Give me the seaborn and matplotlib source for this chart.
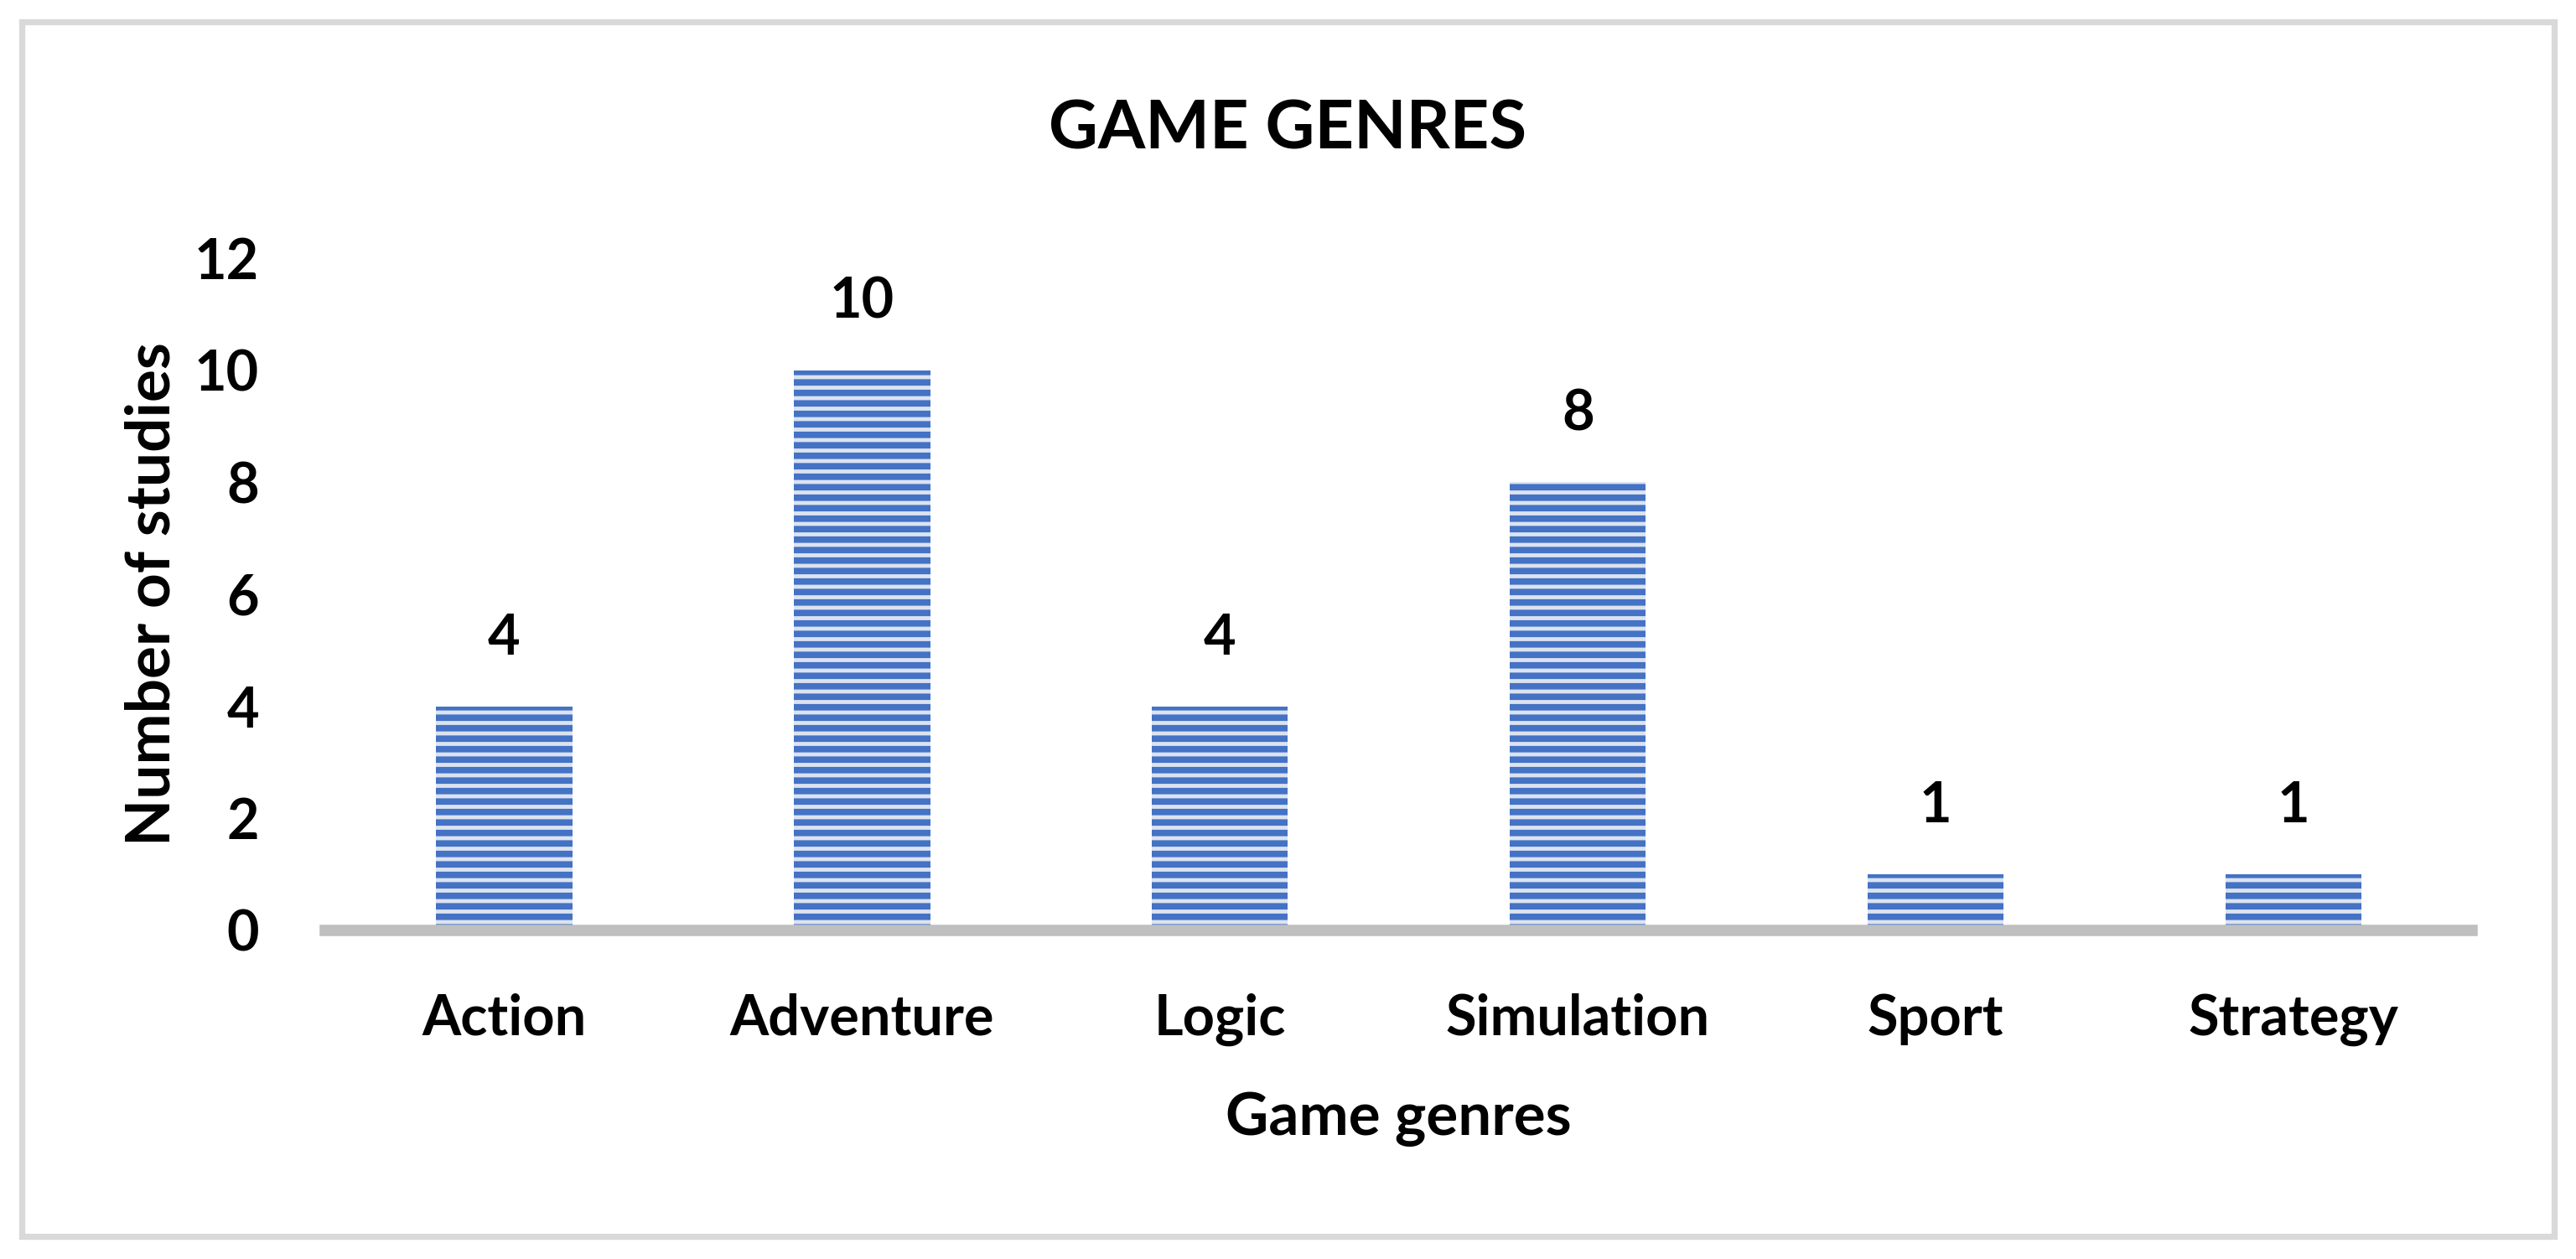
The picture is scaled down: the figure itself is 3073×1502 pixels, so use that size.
import matplotlib
matplotlib.use("Agg")
import matplotlib.pyplot as plt
import seaborn as sns
import pandas as pd
from matplotlib.patches import Rectangle

genres = ["Action", "Adventure", "Logic", "Simulation", "Sport", "Strategy"]
studies = [4, 10, 4, 8, 1, 1]
yticks = [0, 2, 4, 6, 8, 10, 12]

df = pd.DataFrame({"genre": genres, "n": studies})

sns.set_theme(style="white")
plt.rcParams["font.family"] = ["Lato", "DejaVu Sans"]
plt.rcParams["hatch.linewidth"] = 3.7

DPI = 150
fig = plt.figure(figsize=(3073 / DPI, 1502 / DPI), dpi=DPI)
ax = fig.add_axes([0.1263, 0.261, 0.8335, 0.534])

sns.barplot(data=df, x="genre", y="n", ax=ax, width=0.38,
            color="#D9E2F3", edgecolor="#4472C4", linewidth=0, hatch="--")

for c in ax.containers:
    ax.bar_label(c, labels=[str(v) for v in studies], padding=24,
                 fontsize=32, fontweight="bold", color="black")

ax.set_xlim(-0.5, 5.5)
ax.set_ylim(0, 12)
ax.set_yticks(yticks)
ax.set_yticklabels([str(t) for t in yticks])
ax.tick_params(axis="y", length=0, pad=38, labelsize=32)
ax.tick_params(axis="x", length=0, pad=36, labelsize=32)
for lab in ax.get_xticklabels() + ax.get_yticklabels():
    lab.set_fontweight("bold")
    lab.set_color("black")

for s in ["top", "right", "left"]:
    ax.spines[s].set_visible(False)
ax.spines["bottom"].set_color("#BFBFBF")
ax.spines["bottom"].set_linewidth(6.5)
ax.spines["bottom"].set_zorder(5)

ax.set_xlabel("Game genres", fontsize=34, fontweight="bold", labelpad=26, color="black")
ax.set_ylabel("Number of studies", fontsize=35, fontweight="bold", labelpad=8, color="black")

fig.text(0.5, 0.897, "GAME GENRES", ha="center", va="center", fontsize=39,
         fontweight="bold", color="black")

fig.patches.append(Rectangle((0.0083, 0.018), 0.9834, 0.965, transform=fig.transFigure,
                             fill=False, edgecolor="#D9D9D9", linewidth=3.5))

fig.savefig("out.png", dpi=DPI, facecolor="white")
